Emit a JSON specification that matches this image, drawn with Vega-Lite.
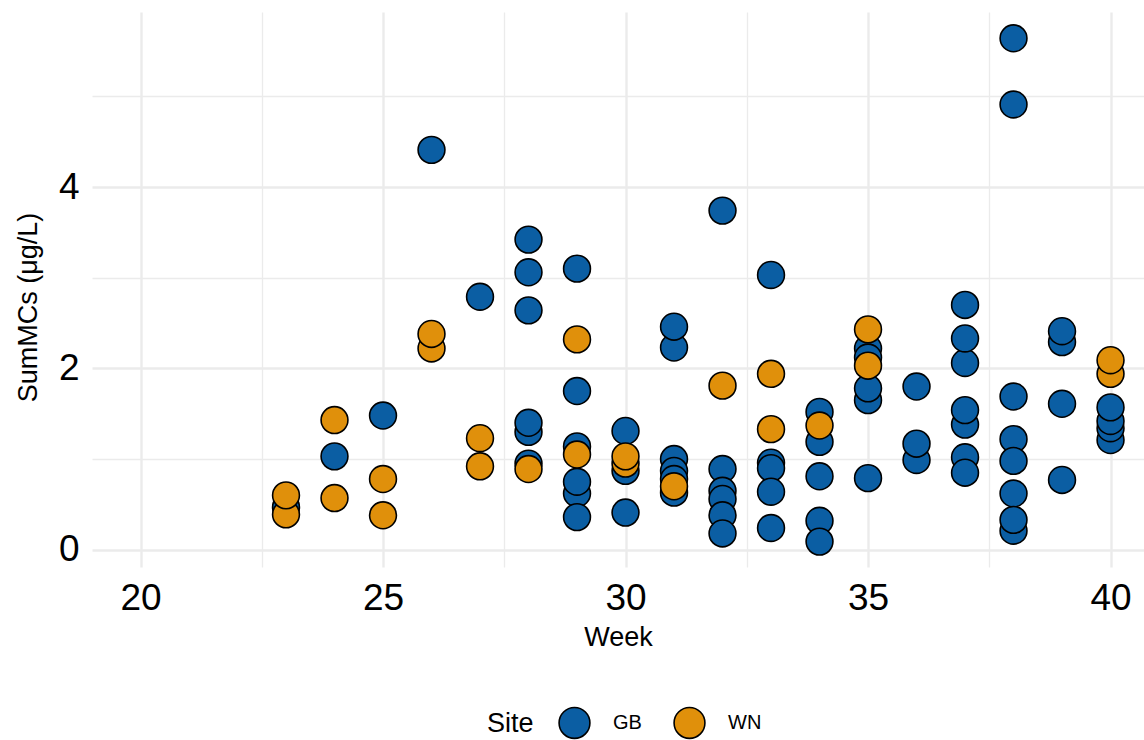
{
  "$schema": "https://vega.github.io/schema/vega-lite/v6.json",
  "autosize": {"type": "none"},
  "padding": {"left": 92, "top": 12, "right": 0, "bottom": 173},
  "width": 1052,
  "height": 555,
  "background": "white",
  "config": {
    "view": {"stroke": null},
    "font": "Liberation Sans"
  },
  "data": {
    "values": [
      {"Week": 23, "Site": "GB", "SumMCs": 0.47},
      {"Week": 24, "Site": "GB", "SumMCs": 1.03},
      {"Week": 25, "Site": "GB", "SumMCs": 1.48},
      {"Week": 26, "Site": "GB", "SumMCs": 4.41},
      {"Week": 27, "Site": "GB", "SumMCs": 2.79},
      {"Week": 28, "Site": "GB", "SumMCs": 3.42},
      {"Week": 28, "Site": "GB", "SumMCs": 3.06},
      {"Week": 28, "Site": "GB", "SumMCs": 2.64},
      {"Week": 28, "Site": "GB", "SumMCs": 1.30},
      {"Week": 28, "Site": "GB", "SumMCs": 1.40},
      {"Week": 28, "Site": "GB", "SumMCs": 0.95},
      {"Week": 29, "Site": "GB", "SumMCs": 3.10},
      {"Week": 29, "Site": "GB", "SumMCs": 1.75},
      {"Week": 29, "Site": "GB", "SumMCs": 1.14},
      {"Week": 29, "Site": "GB", "SumMCs": 0.62},
      {"Week": 29, "Site": "GB", "SumMCs": 0.75},
      {"Week": 29, "Site": "GB", "SumMCs": 0.36},
      {"Week": 30, "Site": "GB", "SumMCs": 1.31},
      {"Week": 30, "Site": "GB", "SumMCs": 0.87},
      {"Week": 30, "Site": "GB", "SumMCs": 0.41},
      {"Week": 31, "Site": "GB", "SumMCs": 2.23},
      {"Week": 31, "Site": "GB", "SumMCs": 2.46},
      {"Week": 31, "Site": "GB", "SumMCs": 1.00},
      {"Week": 31, "Site": "GB", "SumMCs": 0.87},
      {"Week": 31, "Site": "GB", "SumMCs": 0.78},
      {"Week": 31, "Site": "GB", "SumMCs": 0.63},
      {"Week": 32, "Site": "GB", "SumMCs": 3.74},
      {"Week": 32, "Site": "GB", "SumMCs": 0.89},
      {"Week": 32, "Site": "GB", "SumMCs": 0.65},
      {"Week": 32, "Site": "GB", "SumMCs": 0.56},
      {"Week": 32, "Site": "GB", "SumMCs": 0.38},
      {"Week": 32, "Site": "GB", "SumMCs": 0.18},
      {"Week": 33, "Site": "GB", "SumMCs": 3.03},
      {"Week": 33, "Site": "GB", "SumMCs": 0.96},
      {"Week": 33, "Site": "GB", "SumMCs": 0.90},
      {"Week": 33, "Site": "GB", "SumMCs": 0.64},
      {"Week": 33, "Site": "GB", "SumMCs": 0.24},
      {"Week": 34, "Site": "GB", "SumMCs": 1.52},
      {"Week": 34, "Site": "GB", "SumMCs": 1.19},
      {"Week": 34, "Site": "GB", "SumMCs": 0.81},
      {"Week": 34, "Site": "GB", "SumMCs": 0.32},
      {"Week": 34, "Site": "GB", "SumMCs": 0.09},
      {"Week": 35, "Site": "GB", "SumMCs": 2.22},
      {"Week": 35, "Site": "GB", "SumMCs": 2.12},
      {"Week": 35, "Site": "GB", "SumMCs": 1.65},
      {"Week": 35, "Site": "GB", "SumMCs": 1.78},
      {"Week": 35, "Site": "GB", "SumMCs": 0.79},
      {"Week": 36, "Site": "GB", "SumMCs": 1.80},
      {"Week": 36, "Site": "GB", "SumMCs": 0.99},
      {"Week": 36, "Site": "GB", "SumMCs": 1.17},
      {"Week": 37, "Site": "GB", "SumMCs": 2.70},
      {"Week": 37, "Site": "GB", "SumMCs": 2.06},
      {"Week": 37, "Site": "GB", "SumMCs": 2.33},
      {"Week": 37, "Site": "GB", "SumMCs": 1.38},
      {"Week": 37, "Site": "GB", "SumMCs": 1.54},
      {"Week": 37, "Site": "GB", "SumMCs": 1.02},
      {"Week": 37, "Site": "GB", "SumMCs": 0.85},
      {"Week": 38, "Site": "GB", "SumMCs": 5.64},
      {"Week": 38, "Site": "GB", "SumMCs": 4.91},
      {"Week": 38, "Site": "GB", "SumMCs": 1.69},
      {"Week": 38, "Site": "GB", "SumMCs": 1.22},
      {"Week": 38, "Site": "GB", "SumMCs": 0.98},
      {"Week": 38, "Site": "GB", "SumMCs": 0.62},
      {"Week": 38, "Site": "GB", "SumMCs": 0.21},
      {"Week": 38, "Site": "GB", "SumMCs": 0.33},
      {"Week": 39, "Site": "GB", "SumMCs": 2.29},
      {"Week": 39, "Site": "GB", "SumMCs": 2.41},
      {"Week": 39, "Site": "GB", "SumMCs": 1.61},
      {"Week": 39, "Site": "GB", "SumMCs": 0.77},
      {"Week": 40, "Site": "GB", "SumMCs": 1.21},
      {"Week": 40, "Site": "GB", "SumMCs": 1.34},
      {"Week": 40, "Site": "GB", "SumMCs": 1.42},
      {"Week": 40, "Site": "GB", "SumMCs": 1.57},
      {"Week": 23, "Site": "WN", "SumMCs": 0.39},
      {"Week": 23, "Site": "WN", "SumMCs": 0.60},
      {"Week": 24, "Site": "WN", "SumMCs": 1.43},
      {"Week": 24, "Site": "WN", "SumMCs": 0.57},
      {"Week": 25, "Site": "WN", "SumMCs": 0.78},
      {"Week": 25, "Site": "WN", "SumMCs": 0.38},
      {"Week": 26, "Site": "WN", "SumMCs": 2.22},
      {"Week": 26, "Site": "WN", "SumMCs": 2.38},
      {"Week": 27, "Site": "WN", "SumMCs": 1.23},
      {"Week": 27, "Site": "WN", "SumMCs": 0.92},
      {"Week": 28, "Site": "WN", "SumMCs": 0.89},
      {"Week": 29, "Site": "WN", "SumMCs": 2.32},
      {"Week": 29, "Site": "WN", "SumMCs": 1.05},
      {"Week": 30, "Site": "WN", "SumMCs": 0.95},
      {"Week": 30, "Site": "WN", "SumMCs": 1.03},
      {"Week": 31, "Site": "WN", "SumMCs": 0.70},
      {"Week": 32, "Site": "WN", "SumMCs": 1.81},
      {"Week": 33, "Site": "WN", "SumMCs": 1.94},
      {"Week": 33, "Site": "WN", "SumMCs": 1.33},
      {"Week": 34, "Site": "WN", "SumMCs": 1.37},
      {"Week": 35, "Site": "WN", "SumMCs": 2.03},
      {"Week": 35, "Site": "WN", "SumMCs": 2.43},
      {"Week": 40, "Site": "WN", "SumMCs": 1.94},
      {"Week": 40, "Site": "WN", "SumMCs": 2.09}
    ]
  },
  "mark": {"type": "point", "shape": "circle", "filled": true, "size": 720, "stroke": "black", "strokeWidth": 1.6, "opacity": 1},
  "encoding": {
    "x": {
      "field": "Week", "type": "quantitative",
      "scale": {"domain": [19, 40.69], "nice": false, "zero": false},
      "axis": {
        "title": "Week",
        "values": [20, 22.5, 25, 27.5, 30, 32.5, 35, 37.5, 40],
        "labelExpr": "datum.value % 5 === 0 ? datum.label : ''",
        "labelFont": "Liberation Sans", "labelFontSize": 37, "labelColor": "black",
        "labelPadding": 13,
        "titleFont": "Liberation Sans", "titleFontSize": 27, "titleFontWeight": "normal", "titleColor": "black",
        "titlePadding": 8,
        "ticks": false, "domain": false,
        "grid": true, "gridColor": "#ebebeb",
        "gridWidth": {"condition": {"test": "datum.value % 5 === 0", "value": 2.4}, "value": 1.3}
      }
    },
    "y": {
      "field": "SumMCs", "type": "quantitative",
      "scale": {"domain": [-0.19, 5.93], "nice": false, "zero": false},
      "axis": {
        "title": "SumMCs (μg/L)",
        "titleY": 295,
        "values": [0, 1, 2, 3, 4, 5],
        "labelExpr": "datum.value % 2 === 0 ? datum.label : ''",
        "labelFont": "Liberation Sans", "labelFontSize": 37, "labelColor": "black",
        "labelPadding": 13,
        "titleFont": "Liberation Sans", "titleFontSize": 27, "titleFontWeight": "normal", "titleColor": "black",
        "titlePadding": 16,
        "ticks": false, "domain": false,
        "grid": true, "gridColor": "#ebebeb",
        "gridWidth": {"condition": {"test": "datum.value % 2 === 0", "value": 2.4}, "value": 1.3}
      }
    },
    "fill": {
      "field": "Site", "type": "nominal",
      "scale": {"domain": ["GB", "WN"], "range": ["#0b5ea3", "#e0900b"]},
      "legend": {
        "orient": "none", "legendX": 395, "legendY": 694,
        "direction": "horizontal", "titleOrient": "left",
        "title": "Site",
        "titleFont": "Liberation Sans", "titleFontSize": 27, "titleFontWeight": "normal", "titleColor": "black",
        "titlePadding": 24,
        "labelFont": "Liberation Sans", "labelFontSize": 20, "labelColor": "black",
        "labelOffset": 22,
        "columnPadding": 28,
        "symbolType": "circle", "symbolSize": 950, "symbolStrokeColor": "black", "symbolStrokeWidth": 1.6,
        "symbolOpacity": 1
      }
    }
  }
}
